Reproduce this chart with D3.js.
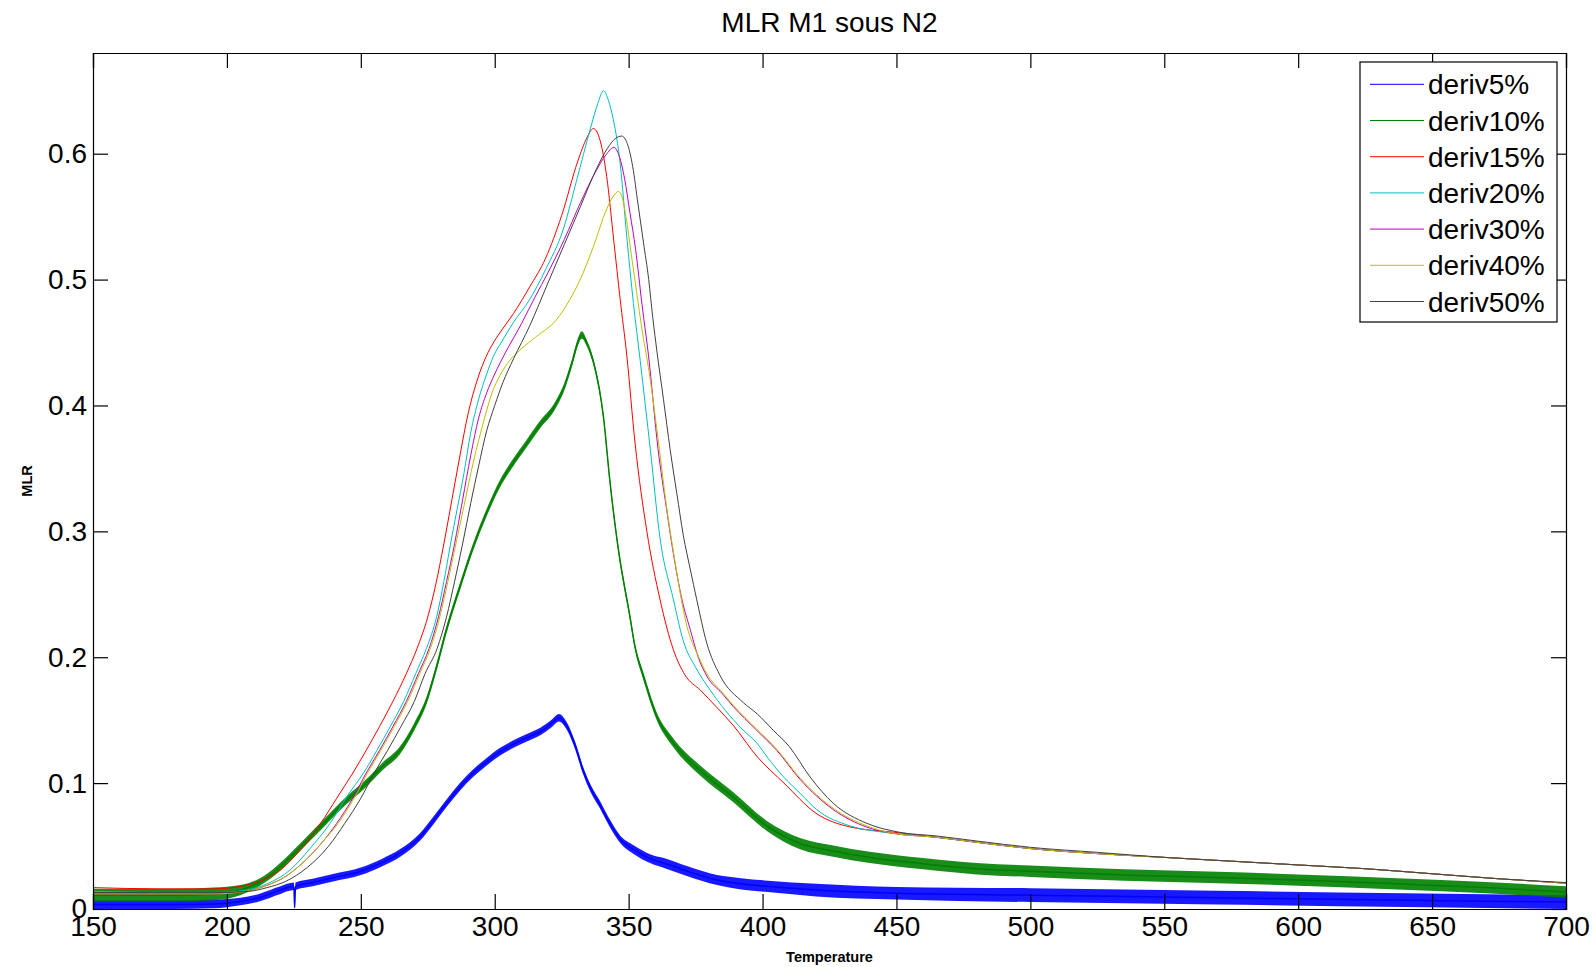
<!DOCTYPE html>
<html><head><meta charset="utf-8">
<script src="https://cdn.jsdelivr.net/npm/d3@7"></script>
<style>body{margin:0;background:#fff}svg{display:block}text{font-family:"Liberation Sans",Arial,sans-serif}</style>
</head><body>
<script>
const chartTitle = "MLR M1 sous N2";
const xLabel = "Temperature";
const yLabel = "MLR";
const xTicks = [150,200,250,300,350,400,450,500,550,600,650,700];
const yTicks = [0,0.1,0.2,0.3,0.4,0.5,0.6];
const seriesNames = ["deriv5%","deriv10%","deriv15%","deriv20%","deriv30%","deriv40%","deriv50%"];
const seriesColors = ["#0000ff","#008000","#ff0000","#00bfbf","#bf00bf","#bfbf00","#404040"];

// noisy series: [T, value, half-width of noise band]
const deriv5 = [[150,.0035,.0035],[165,.0035,.0035],[180,.0035,.0035],[195,.004,.0035],[205,.006,.003],[212,.009,.003],[220,.015,.003],[225,.018,.003],[225.3,.001,.001],[225.6,.018,.003],[232,.021,.003],[240,.025,.003],[250,.03,.003],[258,.037,.003],[265,.045,.003],[272,.057,.003],[277,.07,.003],[282,.084,.003],[287,.097,.003],[292,.108,.003],[297,.117,.003],[302,.125,.003],[307,.131,.003],[312,.136,.003],[317,.141,.003],[321,.147,.003],[324,.152,.003],[327,.145,.003],[330,.13,.003],[333,.11,.003],[336,.095,.003],[339,.084,.003],[343,.068,.003],[347,.055,.003],[352,.047,.0035],[358,.04,.0035],[364,.036,.004],[372,.03,.004],[383,.023,.004],[392,.02,.0045],[402,.018,.0045],[420,.015,.005],[450,.0125,.005],[500,.011,.0055],[570,.009,.0055],[640,.007,.0055],[700,.0055,.0055]];
const deriv10 = [[150,.011,.005],[165,.011,.005],[180,.011,.005],[195,.012,.005],[205,.015,.004],[212,.021,.003],[218,.03,.003],[225,.044,.003],[231,.057,.003],[237,.07,.003],[244,.085,.003],[252,.1,.003],[258,.113,.003],[264.6,.126,.003],[270,.145,.003],[274.6,.166,.003],[278,.19,.003],[282,.222,.003],[287,.256,.003],[292,.288,.003],[297,.315,.003],[302,.338,.003],[307,.355,.003],[312,.37,.003],[317,.385,.003],[322,.398,.003],[326,.415,.003],[329,.435,.003],[331,.45,.003],[332.5,.456,.003],[334.5,.449,.0025],[336.8,.435,.0025],[340.6,.391,.0025],[343,.34,.0025],[346,.288,.0025],[350.5,.232,.0025],[352.4,.208,.0025],[355.5,.185,.003],[360.5,.153,.003],[366.7,.132,.0035],[376.7,.11,.004],[389,.089,.004],[401.6,.066,.004],[414,.052,.0045],[426.4,.046,.0045],[440,.041,.0045],[460,.036,.0045],[480,.032,.0045],[500,.03,.0045],[535,.027,.0045],[570,.025,.0045],[600,.023,.0045],[637,.02,.0045],[670,.017,.0045],[700,.0135,.0045]];
// smooth series: [T, value]
const deriv15 = [[150,.017],[175,.016],[195,.016],[205,.018],[212,.022],[220,.031],[227,.046],[235,.068],[241,.088],[247,.108],[252,.126],[257,.145],[262,.165],[267,.187],[271,.207],[275,.232],[278,.258],[281,.29],[284,.325],[287,.36],[290,.393],[293,.417],[296,.435],[299,.448],[302,.458],[307,.473],[313,.494],[319,.517],[325,.551],[331,.594],[334.5,.613],[336.8,.62],[339,.613],[341.8,.582],[344.5,.53],[346.8,.485],[349.3,.44],[352.4,.37],[356.8,.3],[361.7,.246],[366.7,.206],[371,.186],[376.7,.174],[383,.16],[389,.146],[398,.121],[408,.1],[420,.076],[433,.065],[449,.061],[465,.057],[480,.053],[500,.048],[525,.044],[550,.041],[575,.038],[600,.035],[625,.032],[650,.028],[675,.024],[700,.0205]];
const deriv20 = [[150,.014],[175,.013],[195,.013],[207,.015],[215,.02],[223.6,.031],[231,.048],[238.5,.068],[245,.09],[251,.108],[256,.126],[261,.145],[266,.165],[270.5,.187],[274.5,.207],[278.3,.232],[281,.26],[283.5,.29],[286,.318],[288.5,.346],[291,.378],[294,.405],[297,.425],[299.5,.439],[303,.452],[307,.466],[313,.484],[319,.508],[325.6,.54],[330.6,.579],[335.6,.619],[338.5,.64],[340.6,.65],[342.5,.642],[344.3,.627],[346.8,.593],[349.3,.534],[351.8,.481],[354.3,.436],[358.1,.365],[361.7,.295],[366.7,.246],[370.4,.213],[375,.192],[380.4,.174],[386,.158],[392.8,.142],[397.8,.132],[402,.12],[407.8,.105],[414,.092],[420.2,.079],[432.7,.066],[445,.061],[460,.058],[480,.053],[500,.048],[525,.044],[550,.041],[575,.038],[600,.035],[625,.032],[650,.028],[675,.024],[700,.0205]];
const deriv30 = [[150,.012],[175,.012],[195,.012],[207,.014],[214,.018],[222,.026],[229,.038],[236,.054],[241,.068],[247,.088],[252,.108],[257,.126],[262,.145],[267,.165],[271.5,.187],[275.5,.207],[279,.232],[282,.26],[285,.29],[288,.325],[291,.36],[294,.39],[297,.41],[300,.425],[304,.442],[310,.465],[315,.486],[320,.506],[326,.532],[332,.561],[338,.587],[341.5,.599],[344.5,.605],[346.5,.598],[348.5,.58],[350.5,.553],[352.6,.524],[355,.48],[357.4,.44],[361,.365],[364,.32],[366.5,.285],[370,.245],[373,.222],[376,.2],[379.2,.185],[385,.171],[389,.161],[397.8,.142],[405.3,.126],[414,.103],[426.4,.079],[439,.065],[449,.06],[465,.057],[480,.053],[500,.048],[525,.044],[550,.041],[575,.038],[600,.035],[625,.032],[650,.028],[675,.024],[700,.0205]];
const deriv40 = [[150,.012],[175,.012],[195,.012],[207,.014],[214,.018],[222,.026],[229,.038],[236,.054],[241.5,.068],[247.5,.088],[252.5,.108],[257.5,.126],[262.5,.145],[267.5,.165],[272,.187],[276,.207],[279.5,.232],[282.5,.26],[285.5,.29],[288.5,.32],[292,.355],[295.7,.386],[299,.41],[302,.424],[305.7,.436],[309.4,.444],[315.7,.455],[323,.468],[328,.484],[331.9,.5],[336.8,.526],[341.8,.556],[344.5,.567],[346.2,.57],[347.5,.566],[349,.55],[351,.52],[353,.49],[355,.46],[357.4,.43],[361.5,.365],[364,.322],[367,.28],[371.7,.225],[376,.201],[379.2,.187],[385,.172],[389,.162],[397.8,.143],[405.3,.127],[414,.104],[426.4,.08],[439,.066],[449,.06],[465,.057],[480,.053],[500,.048],[525,.044],[550,.041],[575,.038],[600,.035],[625,.032],[650,.028],[675,.024],[700,.0205]];
const deriv50 = [[150,.013],[175,.013],[195,.013],[208,.014],[215,.017],[222,.022],[230,.033],[238,.05],[244,.068],[250,.088],[255,.108],[260,.126],[265,.145],[270,.165],[274,.187],[278.5,.207],[282,.232],[285,.26],[288,.29],[291,.322],[294,.352],[297,.38],[300,.4],[303,.418],[307,.437],[313,.463],[320,.498],[326,.528],[332,.558],[338,.588],[342,.604],[345,.612],[347.4,.614],[349.5,.608],[351.5,.59],[353.5,.56],[355.5,.53],[357.5,.5],[359,.47],[360.5,.444],[363,.405],[365.5,.365],[368,.33],[370.4,.297],[373,.27],[375.4,.246],[379.2,.211],[384,.186],[392.8,.164],[398,.155],[404,.142],[410,.129],[417.7,.105],[426.4,.084],[439,.068],[451,.061],[465,.058],[480,.054],[500,.049],[525,.045],[550,.041],[575,.038],[600,.035],[625,.032],[650,.028],[675,.024],[700,.021]];

const seriesData = [deriv5, deriv10, deriv15, deriv20, deriv30, deriv40, deriv50];

const W = 1596, H = 967;
const m = {left: 93, right: 1566, top: 53, bottom: 909};
const svg = d3.select("body").append("svg").attr("width", W).attr("height", H);
const x = d3.scaleLinear().domain([150, 700]).range([m.left, m.right]);
const y = d3.scaleLinear().domain([0, 0.68]).range([m.bottom, m.top]);

svg.append("defs").append("clipPath").attr("id", "clip")
  .append("rect").attr("x", m.left).attr("y", m.top).attr("width", m.right - m.left).attr("height", m.bottom - m.top);

const plot = svg.append("g").attr("clip-path", "url(#clip)");
const line = d3.line().x(d => x(d[0])).y(d => y(d[1])).curve(d3.curveMonotoneX);
const band = d3.area().x(d => x(d[0])).y0(d => y(Math.max(0, d[1] - d[2]))).y1(d => y(d[1] + d[2])).curve(d3.curveMonotoneX);

seriesData.forEach((s, i) => {
  if (s[0].length === 3) {
    plot.append("path").attr("d", band(s)).attr("fill", seriesColors[i]).attr("opacity", 0.9);
    plot.append("path").attr("d", line(s)).attr("fill", "none").attr("stroke", seriesColors[i]).attr("stroke-width", 1.5);
  } else {
    plot.append("path").attr("d", line(s)).attr("fill", "none").attr("stroke", seriesColors[i]).attr("stroke-width", 1);
  }
});

// axes (MATLAB-like box with inward ticks on all sides)
const tickLen = 15;
const fmt = d => d === 0 ? "0" : d3.format(".1f")(d);
const axB = svg.append("g").attr("transform", `translate(0,${m.bottom})`)
  .call(d3.axisBottom(x).tickValues(xTicks).tickSize(-tickLen).tickPadding(10).tickFormat(d3.format("d")));
const axT = svg.append("g").attr("transform", `translate(0,${m.top})`)
  .call(d3.axisTop(x).tickValues(xTicks).tickSize(-tickLen).tickFormat(""));
const axL = svg.append("g").attr("transform", `translate(${m.left},0)`)
  .call(d3.axisLeft(y).tickValues(yTicks).tickSize(-tickLen).tickPadding(6).tickFormat(fmt));
const axR = svg.append("g").attr("transform", `translate(${m.right},0)`)
  .call(d3.axisRight(y).tickValues(yTicks).tickSize(-tickLen).tickFormat(""));
[axB, axT, axL, axR].forEach(a => {
  a.select(".domain").attr("stroke", "#000").attr("stroke-width", 1.2);
  a.selectAll(".tick line").attr("stroke", "#000").attr("stroke-width", 1.2);
  a.selectAll("text").attr("font-family", "'Liberation Sans',Arial,sans-serif").attr("font-size", 28).attr("fill", "#000");
});
axB.selectAll(".tick text").attr("dy", "0.62em");

// title & labels
svg.append("text").attr("x", (m.left + m.right) / 2).attr("y", 32).attr("text-anchor", "middle")
  .attr("font-size", 28).text(chartTitle);
svg.append("text").attr("x", (m.left + m.right) / 2).attr("y", 962).attr("text-anchor", "middle")
  .attr("font-size", 14.5).attr("font-weight", "bold").text(xLabel);
svg.append("text").attr("transform", `translate(32,${(m.top + m.bottom) / 2}) rotate(-90)`).attr("text-anchor", "middle")
  .attr("font-size", 14.5).attr("font-weight", "bold").text(yLabel);

// legend
const lg = svg.append("g");
lg.append("rect").attr("x", 1360).attr("y", 62).attr("width", 197).attr("height", 260)
  .attr("fill", "#fff").attr("stroke", "#000").attr("stroke-width", 1.2);
seriesNames.forEach((n, i) => {
  const cy = 84.3 + i * 36.2;
  lg.append("line").attr("x1", 1370).attr("x2", 1424).attr("y1", cy).attr("y2", cy)
    .attr("stroke", seriesColors[i]).attr("stroke-width", 1);
  lg.append("text").attr("x", 1428).attr("y", cy).attr("dy", "0.36em").attr("font-size", 28).text(n);
});
</script>
</body></html>
